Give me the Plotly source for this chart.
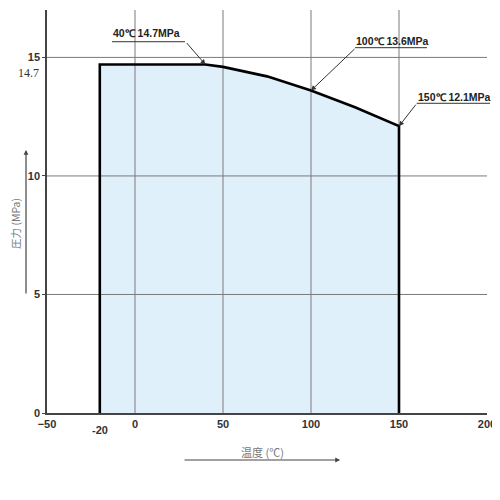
import plotly.graph_objects as go

# operating range boundary
temp_c = [-20, -20, 40, 50, 75, 100, 125, 150, 150]
pressure_mpa = [0, 14.7, 14.7, 14.6, 14.2, 13.6, 12.9, 12.1, 0]

x_ticks = [-50, 0, 50, 100, 150, 200]
y_ticks = [0, 5, 10, 15]
grid_x = [0, 50, 100, 150]
grid_y = [5, 10, 15]

# callouts: (temp, pressure, label)
callouts = [
    (40, 14.7, "40℃ 14.7MPa"),
    (100, 13.6, "100℃ 13.6MPa"),
    (150, 12.1, "150℃ 12.1MPa"),
]

X_RANGE = [-50, 200]
Y_RANGE = [0, 17]
LABEL_FONT = "Liberation Sans"
JP_FONT = "Noto Sans CJK JP"

fig = go.Figure()

# blue area, no outline
fig.add_trace(go.Scatter(
    x=temp_c, y=pressure_mpa, mode="lines", fill="toself",
    fillcolor="#dff0fb", line=dict(width=0), hoverinfo="skip", showlegend=False,
))

# grid lines drawn over the fill
gx, gy = [], []
for v in grid_x:
    gx += [v, v, None]
    gy += [Y_RANGE[0], Y_RANGE[1], None]
for v in grid_y:
    gx += [X_RANGE[0], X_RANGE[1], None]
    gy += [v, v, None]
fig.add_trace(go.Scatter(
    x=gx, y=gy, mode="lines", line=dict(color="#7a7a7a", width=1),
    hoverinfo="skip", showlegend=False,
))

# boundary line
fig.add_trace(go.Scatter(
    x=temp_c, y=pressure_mpa, mode="lines",
    line=dict(color="black", width=2.6), showlegend=False,
))

annotations = []
shapes = []

# text position (paper), underline (paper x0, x1, y), arrow tail offset (px)
callout_layout = [
    ((0.225, 0.943), (0.1477, 0.3136, 0.9213), (-20, -23)),
    ((0.785, 0.923), (0.700, 0.8636, 0.9065), (45, -43)),
    ((0.926, 0.785), (0.8402, 1.0068, 0.7685), (18, -23)),
]
for (t, p, label), (pos, line, tail) in zip(callouts, callout_layout):
    annotations.append(dict(
        x=pos[0], y=pos[1], xref="paper", yref="paper", text=label,
        xanchor="center", yanchor="middle", showarrow=False,
        font=dict(family=LABEL_FONT, size=10.5, color="#222", weight="bold"),
    ))
    shapes.append(dict(
        type="line", xref="paper", yref="paper",
        x0=line[0], x1=line[1], y0=line[2], y1=line[2],
        line=dict(color="#333", width=1),
    ))
    annotations.append(dict(
        x=t, y=p, xref="x", yref="y", text="", showarrow=True,
        ax=tail[0], ay=tail[1], arrowhead=2, arrowsize=1, arrowwidth=1,
        arrowcolor="#333", standoff=0,
    ))

tick_font = dict(family=LABEL_FONT, size=11, color="#333", weight="bold")

# extra tick labels
annotations.append(dict(
    x=-20, y=0, xref="x", yref="y", text="-20", showarrow=False,
    xanchor="center", yanchor="top", yshift=-9, font=tick_font,
))
annotations.append(dict(
    x=0, y=14.7, xref="paper", yref="y", text="14.7", showarrow=False,
    xanchor="right", yanchor="middle", xshift=-6, yshift=-8,
    font=dict(family="Liberation Serif", size=12, color="#333"),
))

# axis titles with arrows
annotations.append(dict(
    x=0.489, y=-0.097, xref="paper", yref="paper", text="温度 (℃)",
    xanchor="center", yanchor="middle", showarrow=False,
    font=dict(family=JP_FONT, size=11, color="#777"),
))
annotations.append(dict(
    x=0.666, y=-0.1166, xref="paper", yref="paper", text="", showarrow=True,
    ax=-157, ay=0, arrowhead=2, arrowsize=0.8, arrowwidth=1.2, arrowcolor="#444",
))
annotations.append(dict(
    x=-0.0705, y=0.4715, xref="paper", yref="paper", text="圧力 (MPa)",
    xanchor="center", yanchor="middle", textangle=-90, showarrow=False,
    font=dict(family=JP_FONT, size=10.5, color="#777"),
))
annotations.append(dict(
    x=-0.0477, y=0.6526, xref="paper", yref="paper", text="", showarrow=True,
    ax=0, ay=145, arrowhead=2, arrowsize=0.8, arrowwidth=1.2, arrowcolor="#444",
))

# page body has an 8px margin, so the figure is shifted and kept small
# enough that no scrollbar appears
fig.update_layout(
    width=492, height=484,
    margin=dict(l=39, r=13, t=2, b=79),
    paper_bgcolor="white", plot_bgcolor="white",
    annotations=annotations, shapes=shapes,
    showlegend=False,
)
fig.update_xaxes(
    range=X_RANGE, tickvals=x_ticks, showgrid=False, zeroline=False,
    showline=True, linecolor="#444", linewidth=1.5,
    ticks="", tickfont=tick_font,
)
fig.update_yaxes(
    range=Y_RANGE, tickvals=y_ticks, showgrid=False, zeroline=False,
    showline=True, linecolor="#444", linewidth=1.5,
    ticks="outside", ticklen=3, tickcolor="#444", tickfont=tick_font,
)

fig.write_html("out.html")
